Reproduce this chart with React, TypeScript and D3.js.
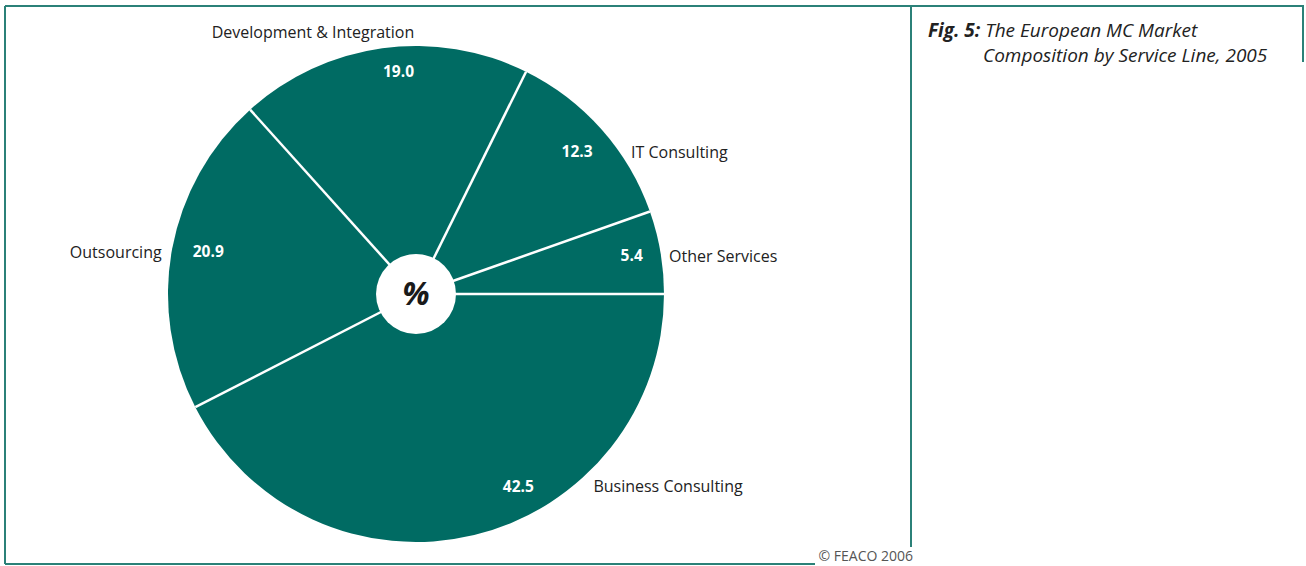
import React from 'react';
import * as d3 from 'd3';

// Service lines, clockwise from 3 o'clock
const categories = ['Business Consulting', 'Outsourcing', 'Development & Integration', 'IT Consulting', 'Other Services'];
const shares = [42.5, 20.9, 19.0, 12.3, 5.4];
const valueLabels = ['42.5', '20.9', '19.0', '12.3', '5.4'];

const titleBold = 'Fig. 5:';
const titleLine1 = 'The European MC Market';
const titleLine2 = 'Composition by Service Line, 2005';
const credit = '© FEACO 2006';

const W = 1306;
const H = 566;
const cx = 416;
const cy = 294;
const R = 248;
const teal = '#006b63';
const frame = '#2b8178';
const font = "'Open Sans', 'Noto Sans', sans-serif";

// angle (deg) where each value label sits, roughly at slice middles
const labelAngle = [152, 281.5, 355.5, 48.5, 80];
const labelRadius = [218, 212, 223, 215, 219];

const App: React.FC = () => {
  const pie = d3
    .pie<number>()
    .sort(null)
    .startAngle(Math.PI / 2)
    .endAngle(Math.PI / 2 + 2 * Math.PI);
  const arcs = pie(shares);
  const arc = d3.arc<d3.PieArcDatum<number>>().innerRadius(0).outerRadius(R);

  const pt = (deg: number, r: number) => {
    const a = (deg * Math.PI) / 180;
    return [cx + r * Math.sin(a), cy - r * Math.cos(a)];
  };

  return (
    <svg width={W} height={H} style={{ position: 'absolute', left: 0, top: 0 }} fontFamily={font}>
      {/* frame */}
      <g stroke={frame} strokeWidth={2} fill="none">
        <line x1={5} y1={6} x2={1304} y2={6} />
        <line x1={1303} y1={6} x2={1303} y2={62} />
        <line x1={5} y1={6} x2={5} y2={564} />
        <line x1={5} y1={564} x2={815} y2={564} />
        <line x1={911} y1={6} x2={911} y2={547} />
      </g>

      {/* slices */}
      <g transform={`translate(${cx},${cy})`}>
        {arcs.map((d, i) => (
          <path key={i} d={arc(d) || ''} fill={teal} />
        ))}
        {arcs.map((d, i) => {
          const a = d.startAngle;
          return (
            <line
              key={'s' + i}
              x1={0}
              y1={0}
              x2={R * Math.sin(a)}
              y2={-R * Math.cos(a)}
              stroke="#fff"
              strokeWidth={2.5}
            />
          );
        })}
        <circle r={40} fill="#fff" />
        <text
          y={11}
          textAnchor="middle"
          fontSize={32}
          fontWeight="bold"
          fontStyle="italic"
          fill="#1a1a1a"
        >
          %
        </text>
      </g>

      {/* value labels and category names */}
      {arcs.map((d, i) => {
        const [x, y] = pt(labelAngle[i], labelRadius[i]);
        const dy = y - cy;
        const edge = Math.sqrt(Math.max(0, R * R - dy * dy));
        const gaps = [21, 10, 0, 12, 8];
        let name: React.ReactNode;
        if (i === 2) {
          name = (
            <text x={313} y={38} textAnchor="middle" fontSize={16} fill="#222">
              {categories[i]}
            </text>
          );
        } else if (i === 1) {
          name = (
            <text x={cx - edge - gaps[i]} y={y + 6} textAnchor="end" fontSize={16} fill="#222">
              {categories[i]}
            </text>
          );
        } else {
          name = (
            <text x={cx + edge + gaps[i]} y={y + 6} textAnchor="start" fontSize={16} fill="#222">
              {categories[i]}
            </text>
          );
        }
        return (
          <g key={'l' + i}>
            <text x={x} y={y + 5.5} textAnchor="middle" fontSize={15.5} fontWeight="bold" fill="#fff">
              {valueLabels[i]}
            </text>
            {name}
          </g>
        );
      })}

      {/* title */}
      <text x={928} y={37} fontSize={19} fontStyle="italic" fill="#222">
        <tspan fontWeight="bold">{titleBold}</tspan>
        <tspan> {titleLine1}</tspan>
      </text>
      <text x={983} y={62} fontSize={19} fontStyle="italic" fill="#222">
        {titleLine2}
      </text>

      <text x={913} y={561} textAnchor="end" fontSize={14} fill="#555">
        {credit}
      </text>
    </svg>
  );
};

export default App;
